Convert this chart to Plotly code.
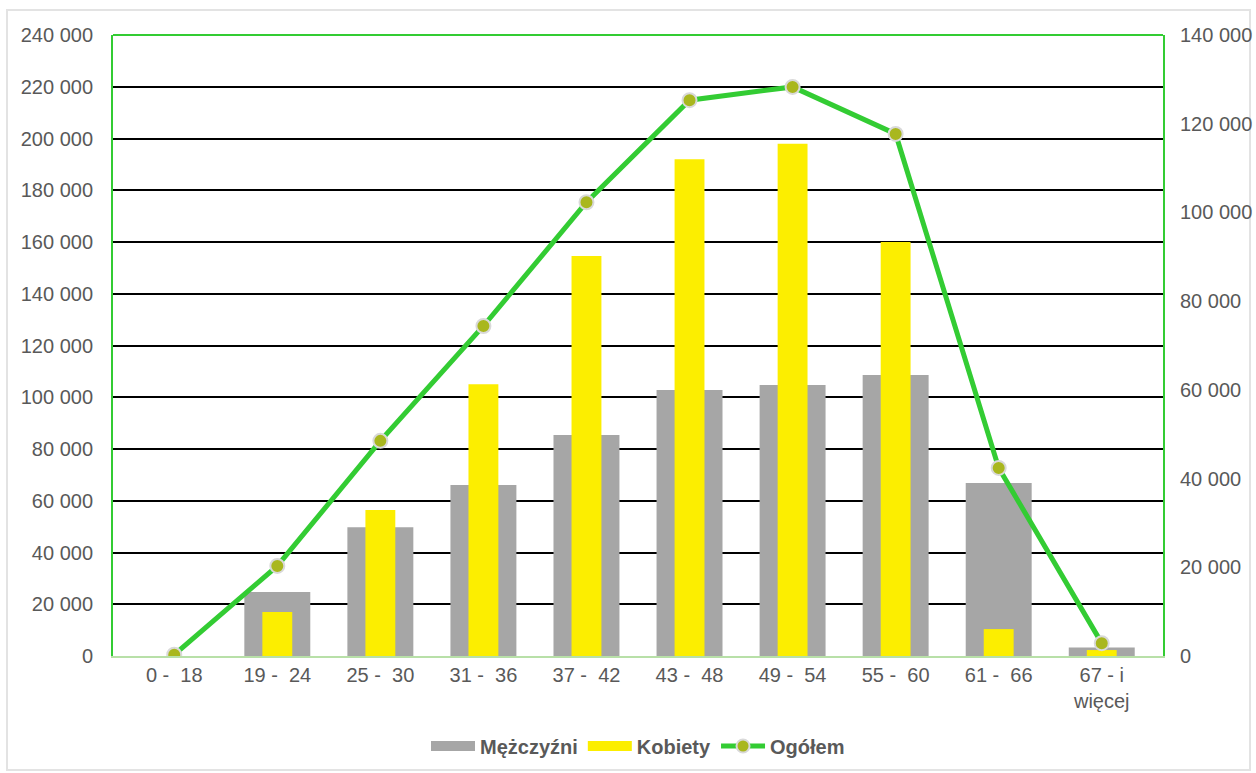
import plotly.graph_objects as go

categories = ["0 -  18", "19 -  24", "25 -  30", "31 -  36", "37 -  42",
              "43 -  48", "49 -  54", "55 -  60", "61 -  66", "67 - i<br>więcej"]
mezczyzni = [0, 24700, 49800, 66100, 85400, 102800, 104700, 108600, 66900, 3300]
kobiety = [0, 17000, 56400, 105000, 154600, 192000, 198000, 160000, 10400, 2300]
ogolem = [300, 20300, 48500, 74400, 102300, 125300, 128300, 117700, 42400, 2900]

left_ticks = list(range(0, 240001, 20000))
right_ticks = list(range(0, 140001, 20000))

font_color = "#595959"
green = "#33cc33"
gray = "#a6a6a6"
yellow = "#fcee00"

W, H = 1256, 773
L, R, T, B = 113, 93, 35, 117
pw, ph = W - L - R, H - T - B

fig = go.Figure()
fig.add_trace(go.Bar(x=categories, y=mezczyzni, name="Mężczyźni", showlegend=False,
                     marker=dict(color=gray, line=dict(width=0)), width=0.64))
fig.add_trace(go.Bar(x=categories, y=kobiety, name="Kobiety", showlegend=False,
                     marker=dict(color=yellow, line=dict(width=0)), width=0.29))
fig.add_trace(go.Scatter(x=categories, y=ogolem, name="Ogółem", yaxis="y2",
                         mode="lines+markers", showlegend=False,
                         line=dict(color=green, width=5),
                         marker=dict(size=14, color="#a9b71e",
                                     line=dict(color="#d9d9d9", width=2))))
# legend entries
fig.add_trace(go.Scatter(x=[None], y=[None], name="Mężczyźni", mode="lines",
                         line=dict(color=gray, width=11)))
fig.add_trace(go.Scatter(x=[None], y=[None], name="Kobiety", mode="lines",
                         line=dict(color=yellow, width=11)))
fig.add_trace(go.Scatter(x=[None], y=[None], name="Ogółem", mode="lines+markers",
                         yaxis="y2",
                         line=dict(color=green, width=5),
                         marker=dict(size=13, color="#a9b71e",
                                     line=dict(color="#d9d9d9", width=2))))

fig.update_layout(
    width=W, height=H,
    barmode="overlay",
    separators=", ",
    plot_bgcolor="white", paper_bgcolor="white",
    font=dict(family="Liberation Sans, Arial, sans-serif", size=20, color=font_color),
    margin=dict(l=L, r=R, t=T, b=B, autoexpand=False),
    xaxis=dict(showline=True, linecolor="#b8e0a8", linewidth=2, ticks="",
               showgrid=False, automargin=False,
               tickfont=dict(size=20, color=font_color)),
    yaxis=dict(range=[0, 240000], tickvals=left_ticks, tickformat=",d",
               showgrid=True, gridcolor="black", gridwidth=2,
               showline=True, linecolor=green, linewidth=2, automargin=False,
               zeroline=False, ticks="", ticklabelstandoff=14),
    yaxis2=dict(range=[0, 140000], tickvals=right_ticks, tickformat=",d",
                overlaying="y", side="right", showgrid=False, automargin=False,
                showline=True, linecolor=green, linewidth=2,
                zeroline=False, ticks="", ticklabelstandoff=11),
    legend=dict(orientation="h", x=0.5, xanchor="center", y=-90 / ph, yanchor="middle",
                font=dict(size=20, color=font_color, weight="bold"),
                traceorder="normal", itemwidth=44),
    shapes=[
        dict(type="line", xref="paper", yref="paper", x0=0, x1=1, y0=1, y1=1,
             line=dict(color=green, width=2)),
        dict(type="rect", xref="paper", yref="paper",
             x0=(7 - L) / pw, x1=(1250 - L) / pw,
             y0=(T + ph - 770) / ph, y1=(T + ph - 10) / ph,
             line=dict(color="#e3e3e3", width=2), layer="below"),
    ],
)

fig.write_html("out.html",
               config={"displayModeBar": False},
               post_script="document.body.style.margin='0';document.body.style.overflow='hidden';")
